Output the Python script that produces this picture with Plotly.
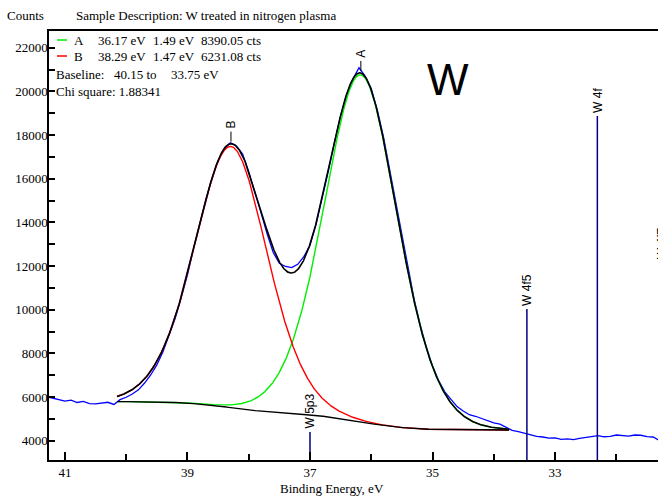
import numpy as np
import plotly.graph_objects as go

# ---------------------------------------------------------------- data
# Raw W 4f spectrum, 0.1 eV steps from 41.3 eV down to 31.3 eV
BE_START = 41.3
BE_STEP = 0.1
COUNTS = [
    6020, 5950, 5890, 5810, 5860, 5750, 5800, 5700, 5690, 5730,
    5760, 5660, 5880, 5990, 6140, 6330, 6640, 7010, 7470, 8070,
    8800, 9610, 10570, 11600, 12790, 13900, 15060, 16010, 16820, 17380,
    17640, 17500, 17130, 16320, 15430, 14450, 13480, 12620, 12130, 11980,
    11930, 12080, 12430, 12950, 13920, 15080, 16360, 17660, 18880, 19870,
    20560, 21080, 20700, 20120, 19130, 17900, 16420, 14880, 13330, 11860,
    10470, 9290, 8270, 7420, 6760, 6240, 5880, 5560, 5360, 5190,
    5120, 5010, 4930, 4820, 4760, 4600, 4470, 4420, 4350, 4290,
    4200, 4170, 4120, 4130, 4060, 4080, 4050, 4110, 4140, 4200,
    4230, 4180, 4200, 4260, 4230, 4210, 4260, 4250, 4190, 4170,
    4010,
]

# Fitted components (position eV, FWHM eV, area)
PEAK_NAMES = ["A", "B"]
PEAK_CENTERS = [36.17, 38.29]
PEAK_FWHM = [1.49, 1.47]
PEAK_AREAS = [8390.05, 6231.08]
PEAK_COLORS = ["#00ee00", "#ff0000"]
GL_MIX = 0.4             # Gaussian/Lorentzian product mix
AREA_TO_COUNTS = 2.96    # reported area units -> counts*eV

# Shirley baseline region and end intensities (high-BE end, low-BE end)
BASELINE_FROM = 40.15
BASELINE_TO = 33.75
BASELINE_END_COUNTS = [5790, 4490]
CHI_SQUARE = 1.88341

# Reference line markers
REF_LABELS = ["W 5p3", "W 4f5", "W 4f"]
REF_BE = [37.0, 33.46, 32.31]
REF_TOP = [4400, 10030, 18870]

# Axes
X_RANGE = [41.26, 31.32]
Y_RANGE = [3116, 22765]
X_MAJOR = [41, 39, 37, 35, 33]
X_MINOR = [40, 38, 36, 34, 32]
Y_MAJOR = list(range(4000, 22001, 2000))
Y_MINOR = list(range(5000, 22001, 2000))

# ---------------------------------------------------------------- model
be = np.round(BE_START - BE_STEP * np.arange(len(COUNTS)), 2)


def gl(e, c, w, m=GL_MIX):
    u = 4.0 * (e - c) ** 2 / w ** 2
    return np.exp(-np.log(2) * (1 - m) * u) / (1 + m * u)


def unit_area(c, w):
    e = np.linspace(c - 25, c + 25, 50001)
    return np.trapezoid(gl(e, c, w), e)


heights = [a * AREA_TO_COUNTS / unit_area(c, w)
           for a, c, w in zip(PEAK_AREAS, PEAK_CENTERS, PEAK_FWHM)]

e_fit = np.linspace(BASELINE_TO, BASELINE_FROM, 1281)
peaks = [h * gl(e_fit, c, w) for h, c, w in zip(heights, PEAK_CENTERS, PEAK_FWHM)]
total = np.sum(peaks, axis=0)
cum = np.concatenate([[0.0], np.cumsum(0.5 * (total[1:] + total[:-1]) * np.diff(e_fit))])
i_high, i_low = BASELINE_END_COUNTS
background = i_low + (i_high - i_low) * cum / cum[-1]
envelope = background + total

# ---------------------------------------------------------------- figure
fig = go.Figure()

fig.add_trace(go.Scatter(x=be, y=COUNTS, mode="lines",
                         line=dict(color="#0000ff", width=1.3)))

for pk, col in zip(peaks, PEAK_COLORS):
    fig.add_trace(go.Scatter(x=e_fit, y=background + pk, mode="lines",
                             line=dict(color=col, width=1.4)))

fig.add_trace(go.Scatter(x=e_fit, y=background, mode="lines",
                         line=dict(color="black", width=1.4)))
fig.add_trace(go.Scatter(x=e_fit, y=envelope, mode="lines",
                         line=dict(color="black", width=1.6)))

# reference markers
ref_x, ref_y = [], []
for xb, top in zip(REF_BE, REF_TOP):
    ref_x += [xb, xb, None]
    ref_y += [Y_RANGE[0], top, None]
fig.add_trace(go.Scatter(x=ref_x, y=ref_y, mode="lines",
                         line=dict(color="#000080", width=1.5)))

PX_PER_COUNT = 429 / (Y_RANGE[1] - Y_RANGE[0])

annotations = []
for lab, xb, top in zip(REF_LABELS, REF_BE, REF_TOP):
    annotations.append(dict(x=xb, y=top, xref="x", yref="y", text=lab,
                            textangle=-90, showarrow=False, xanchor="center",
                            yanchor="bottom", yshift=1,
                            font=dict(family="Liberation Sans", size=12, color="black")))

# marker label running off the right edge of the plot
annotations.append(dict(x=31.40, y=13050, xref="x", yref="y", text="W 4f7",
                        textangle=-90, showarrow=False, xanchor="left",
                        yanchor="middle",
                        font=dict(family="Liberation Sans", size=12, color="black")))

# peak labels with short ticks
tick_x, tick_y = [], []
for name, c in zip(PEAK_NAMES, PEAK_CENTERS):
    yp = float(np.interp(c, e_fit, envelope))
    y0 = yp + 2 / PX_PER_COUNT
    y1 = yp + 12 / PX_PER_COUNT
    tick_x += [c, c, None]
    tick_y += [y0, y1, None]
    annotations.append(dict(x=c, y=y1, xref="x", yref="y", text=name,
                            textangle=-90, showarrow=False, xanchor="center",
                            yanchor="bottom", yshift=1,
                            font=dict(family="Liberation Sans", size=12, color="black")))
fig.add_trace(go.Scatter(x=tick_x, y=tick_y, mode="lines",
                         line=dict(color="black", width=1)))

# page-pixel helpers for fixed text
L, R, T, B = 49, 658, 31, 460


def px(x):
    return (x - L) / (R - L)


def py(y):
    return 1 - (y - T) / (B - T)


def text_at(x, y, s, xanchor="left", size=13, family="Liberation Serif"):
    annotations.append(dict(x=px(x), y=py(y), xref="paper", yref="paper", text=s,
                            showarrow=False, xanchor=xanchor, yanchor="middle",
                            font=dict(family=family, size=size, color="black")))


text_at(5, 16, "Counts")
text_at(74, 16, "Sample Description: W treated in nitrogen plasma")
text_at(332, 488, "Binding Energy, eV", xanchor="center")
text_at(448, 79, "W", xanchor="center", size=44, family="Liberation Sans")

# legend block
legend_rows = [41, 57]
shapes = []
for name, c, w, a, col, yrow in zip(PEAK_NAMES, PEAK_CENTERS, PEAK_FWHM, PEAK_AREAS,
                                     PEAK_COLORS, legend_rows):
    shapes.append(dict(type="line", xref="paper", yref="paper",
                       x0=px(57), x1=px(67), y0=py(yrow - 1), y1=py(yrow - 1),
                       line=dict(color=col, width=1.5)))
    text_at(72, yrow, name)
    text_at(96, yrow, f"{c:.2f} eV")
    text_at(151, yrow, f"{w:.2f} eV")
    text_at(199, yrow, f"{a:.2f} cts")
text_at(54, 74, "Baseline:")
text_at(112, 74, f"{BASELINE_FROM:.2f} to")
text_at(169, 74, f"{BASELINE_TO:.2f} eV")
text_at(54, 91, f"Chi square: {CHI_SQUARE}")

fig.update_layout(
    width=658, height=496,
    margin=dict(l=L, r=0, t=T, b=496 - B),
    paper_bgcolor="white", plot_bgcolor="white",
    showlegend=False,
    font=dict(family="Liberation Serif", size=13, color="black"),
    annotations=annotations,
    shapes=shapes,
    xaxis=dict(range=X_RANGE, tickvals=X_MAJOR, ticks="inside", ticklen=8,
               tickwidth=1.5, tickcolor="black", showline=True, linewidth=1.5,
               linecolor="black", mirror=True, showgrid=False, zeroline=False,
               minor=dict(tickvals=X_MINOR, ticks="inside", ticklen=6,
                          tickwidth=1.5, tickcolor="black")),
    yaxis=dict(range=Y_RANGE, tickvals=Y_MAJOR, tickformat="d", ticks="inside",
               ticklen=6, tickwidth=1.5, tickcolor="black", showline=True,
               linewidth=1.5, linecolor="black", mirror=False, showgrid=False,
               zeroline=False, ticklabelstandoff=-3,
               minor=dict(tickvals=Y_MINOR, ticks="inside", ticklen=6,
                          tickwidth=1.5, tickcolor="black")),
)

fig.write_html("out.html")
